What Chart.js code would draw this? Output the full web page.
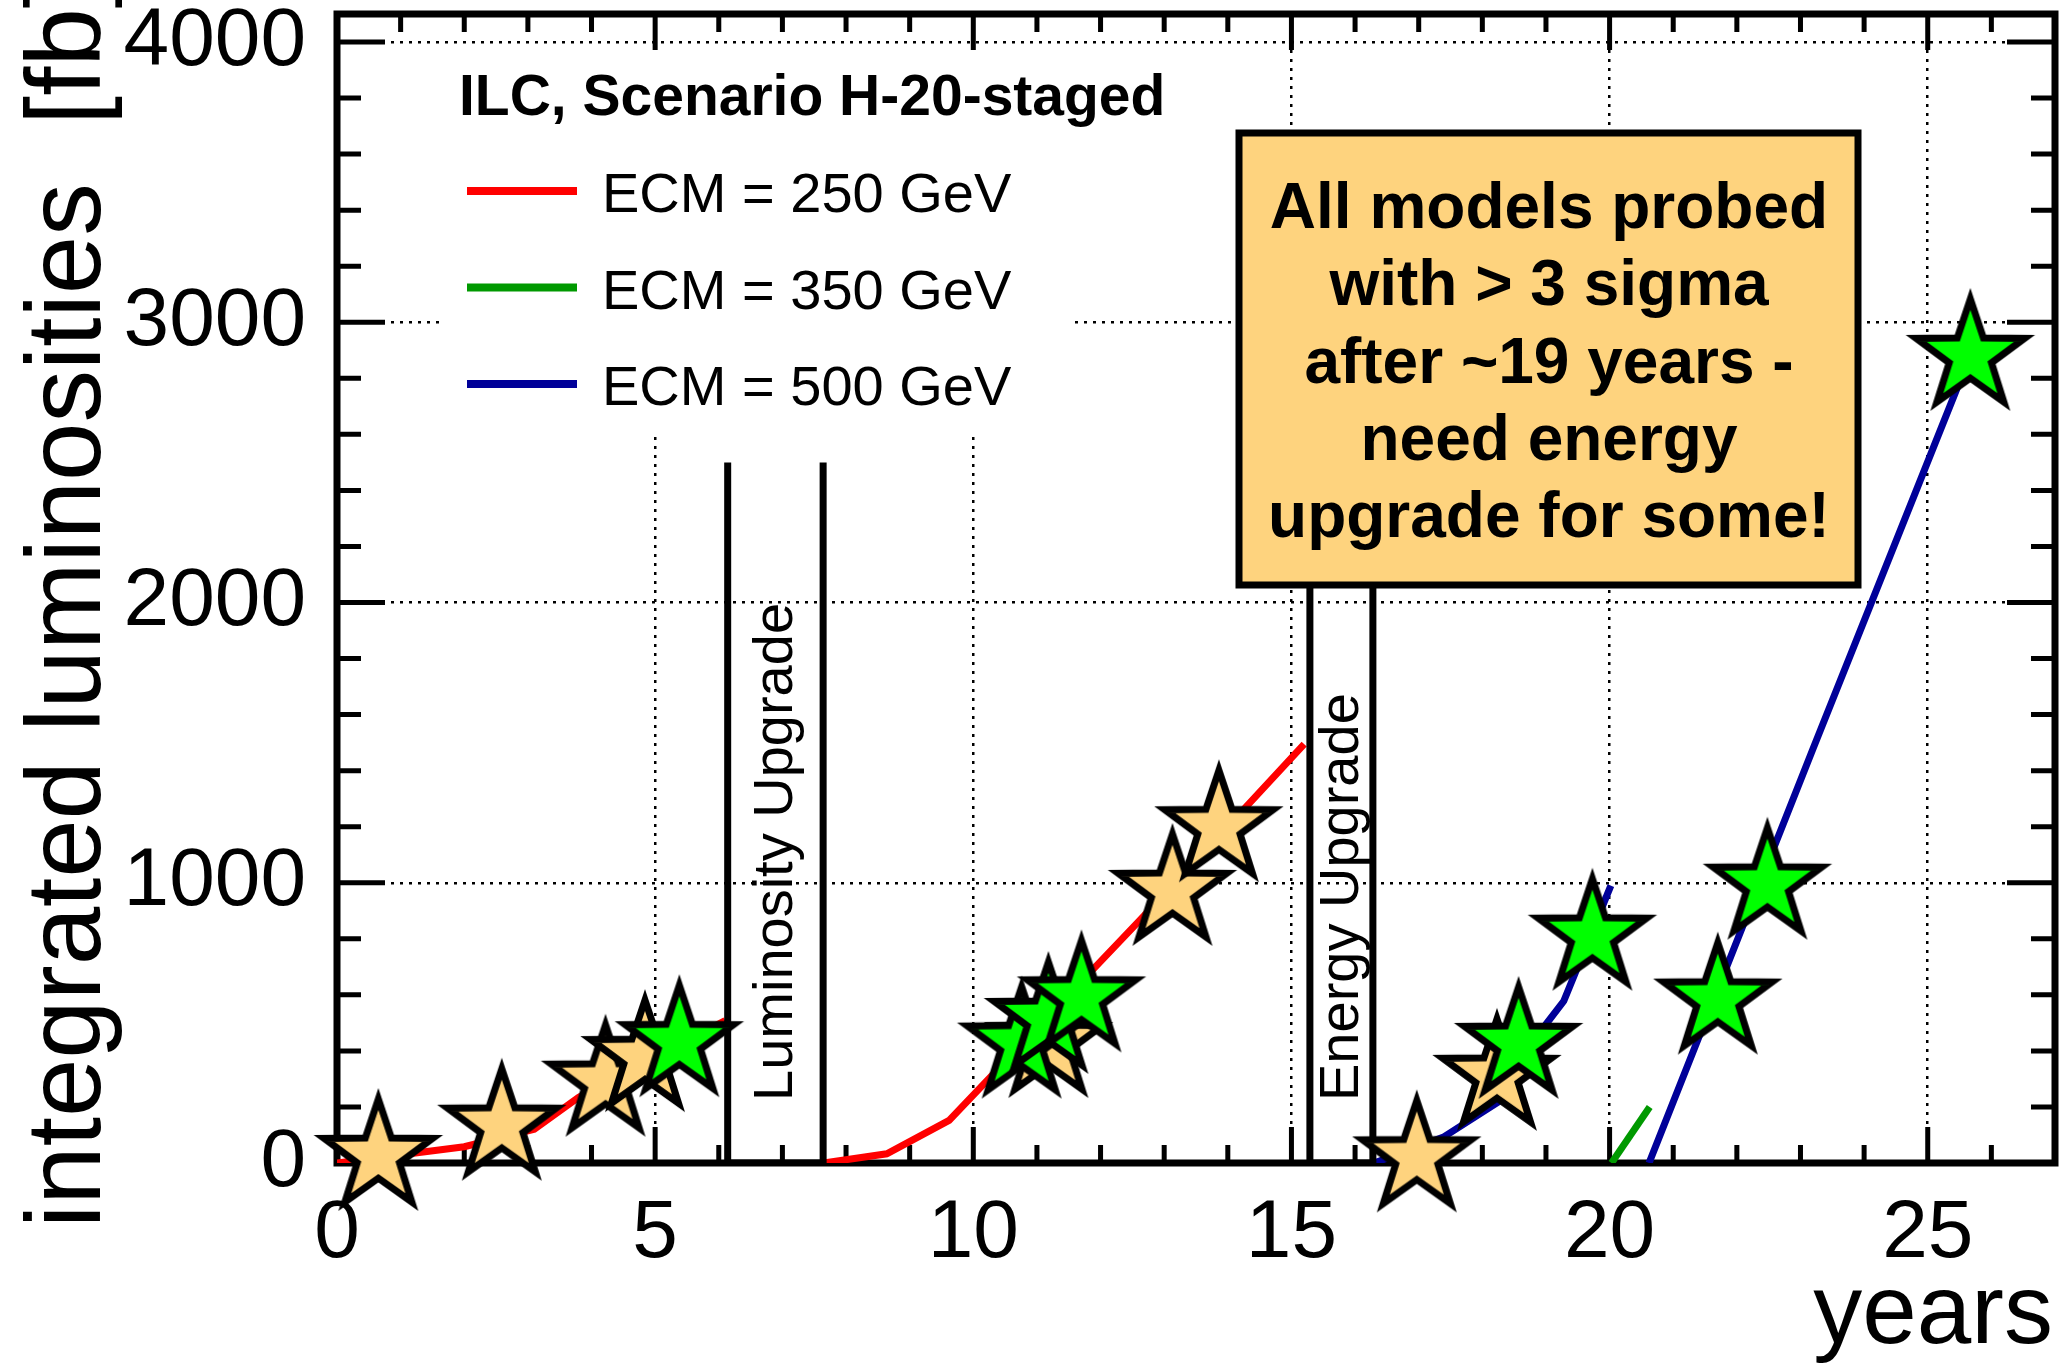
<!DOCTYPE html>
<html>
<head>
<meta charset="utf-8">
<script src="https://cdn.jsdelivr.net/npm/chart.js@4.4.1/dist/chart.umd.min.js"></script>
<style>
  html, body { margin: 0; padding: 0; background: #fff; }
  #chart { display: block; }
</style>
</head>
<body>
<canvas id="chart" width="2070" height="1368"></canvas>
<script>
// ECM = 250 GeV, before and after the luminosity upgrade
const red1Years = [0, 2.0, 3.1, 3.8, 6.1];
const red1Lumi  = [0, 58, 120, 235, 508];
const red2Years = [7.65, 8.64, 9.62, 12.6, 14.25, 15.2];
const red2Lumi  = [0, 33, 152, 862, 1262, 1495];
// ECM = 350 GeV
const greenYears = [20.03, 20.63];
const greenLumi  = [0, 200];
// ECM = 500 GeV
const blue1Years = [16.3, 17.4, 18.3, 19.0, 19.28, 20.02];
const blue1Lumi  = [0, 94, 225, 495, 578, 990];
const blue2Years = [20.62, 23.2, 25.49, 25.67];
const blue2Lumi  = [0, 1480, 2781, 2880];

// star markers
const orangeStarYears = [0.65, 2.59, 4.22, 4.84, 11.18, 13.13, 13.86, 16.97, 18.23];
const orangeStarLumi  = [25, 133, 290, 378, 428, 971, 1198, 20, 311];
const greenStarYears  = [5.38, 10.76, 11.18, 11.70, 18.57, 19.73, 21.70, 22.48, 25.67];
const greenStarLumi   = [431, 426, 514, 591, 425, 811, 583, 993, 2880];

// upgrade periods (years) and the height of their markers
const lumiUpgrade   = [6.14, 7.64];
const energyUpgrade = [15.29, 16.28];
const upgradeTop    = 2500;

// axis tick labels
const xTickValues = [0, 5, 10, 15, 20, 25];
const yTickValues = [0, 1000, 2000, 3000, 4000];

const legendTitle  = 'ILC, Scenario H-20-staged';
const legendLabels = ['ECM = 250 GeV', 'ECM = 350 GeV', 'ECM = 500 GeV'];
const legendColors = ['#ff0000', '#009900', '#000099'];
const boxLines = ['All models probed', 'with > 3 sigma', 'after ~19 years -', 'need energy', 'upgrade for some!'];

const FONT = "'Liberation Sans', Arial, Helvetica, sans-serif";

function toPts(xs, ys) {
    return xs.map((x, i) => ({ x: x, y: ys[i] }));
}

function boxPts(xs) {
    return [
        { x: xs[0], y: upgradeTop }, { x: xs[0], y: 0 },
        { x: xs[1], y: 0 }, { x: xs[1], y: upgradeTop }
    ];
}

function makeStar(fill) {
    const R = 57, r = R * 0.39, size = 150;
    const c = document.createElement('canvas');
    c.width = size;
    c.height = size;
    const g = c.getContext('2d');
    g.translate(size / 2, size / 2);
    g.beginPath();
    for (let i = 0; i < 10; i++) {
        const rad = i % 2 ? r : R;
        const a = -Math.PI / 2 + i * Math.PI / 5;
        g.lineTo(rad * Math.cos(a), rad * Math.sin(a));
    }
    g.closePath();
    g.fillStyle = fill;
    g.fill();
    g.lineWidth = 7;
    g.lineJoin = 'miter';
    g.strokeStyle = '#000';
    g.stroke();
    return c;
}

function lineSet(xs, ys, color) {
    return {
        data: toPts(xs, ys), showLine: true, borderColor: color, borderWidth: 7,
        pointRadius: 0, tension: 0, order: 5
    };
}

const decor = {
    id: 'decor',
    beforeDatasetsDraw(chart) {
        const ctx = chart.ctx;
        const a = chart.chartArea;
        const xs = chart.scales.x, ys = chart.scales.y;
        ctx.save();

        // legend pad hides the grid behind it
        ctx.fillStyle = '#fff';
        ctx.fillRect(440, 48, 634, 388);

        // frame
        ctx.strokeStyle = '#000';
        ctx.lineWidth = 7;
        ctx.strokeRect(a.left, a.top, a.right - a.left, a.bottom - a.top);

        // ticks pointing inwards on all four sides
        ctx.lineWidth = 5;
        ctx.beginPath();
        for (let v = 0; v <= 27; v++) {
            const px = xs.getPixelForValue(v);
            const len = v % 5 === 0 ? 36 : 18;
            ctx.moveTo(px, a.bottom); ctx.lineTo(px, a.bottom - len);
            ctx.moveTo(px, a.top); ctx.lineTo(px, a.top + len);
        }
        for (let v = 0; v <= 4100; v += 200) {
            const py = ys.getPixelForValue(v);
            const len = v % 1000 === 0 ? 48 : 24;
            ctx.moveTo(a.left, py); ctx.lineTo(a.left + len, py);
            ctx.moveTo(a.right, py); ctx.lineTo(a.right - len, py);
        }
        ctx.stroke();

        // legend
        ctx.fillStyle = '#000';
        ctx.textAlign = 'left';
        ctx.textBaseline = 'alphabetic';
        ctx.font = 'bold 57px ' + FONT;
        ctx.fillText(legendTitle, 459, 115);
        ctx.font = '56px ' + FONT;
        legendLabels.forEach((lab, i) => {
            const yy = 191 + i * 96.5;
            ctx.strokeStyle = legendColors[i];
            ctx.lineWidth = 8;
            ctx.beginPath();
            ctx.moveTo(467, yy);
            ctx.lineTo(577, yy);
            ctx.stroke();
            ctx.fillText(lab, 602, yy + 21);
        });
        ctx.restore();
    },
    afterDatasetsDraw(chart) {
        const ctx = chart.ctx;
        const xs = chart.scales.x, ys = chart.scales.y;
        ctx.save();
        ctx.fillStyle = '#000';
        ctx.textAlign = 'left';
        ctx.textBaseline = 'alphabetic';
        ctx.font = '56px ' + FONT;
        [[lumiUpgrade, 'Luminosity Upgrade'], [energyUpgrade, 'Energy Upgrade']].forEach(([xv, txt]) => {
            const cx = (xs.getPixelForValue(xv[0]) + xs.getPixelForValue(xv[1])) / 2;
            ctx.save();
            ctx.translate(cx + 17, ys.getPixelForValue(0) - 62);
            ctx.rotate(-Math.PI / 2);
            ctx.fillText(txt, 0, 0);
            ctx.restore();
        });

        // message box
        ctx.fillStyle = '#fed37e';
        ctx.fillRect(1239, 133, 619, 452);
        ctx.strokeStyle = '#000';
        ctx.lineWidth = 7;
        ctx.strokeRect(1239, 133, 619, 452);
        ctx.fillStyle = '#000';
        ctx.textAlign = 'center';
        ctx.font = 'bold 64px ' + FONT;
        boxLines.forEach((t, i) => ctx.fillText(t, 1549, 228 + i * 77.3));
        ctx.restore();
    },
    afterDraw(chart) {
        const ctx = chart.ctx;
        ctx.save();
        ctx.fillStyle = '#000';
        ctx.textBaseline = 'alphabetic';
        ctx.font = '98px ' + FONT;
        ctx.textAlign = 'right';
        ctx.fillText('years', 2053, 1343);
        ctx.font = '105px ' + FONT;
        ctx.textAlign = 'left';
        ctx.translate(100, 1228);
        ctx.rotate(-Math.PI / 2);
        ctx.fillText('integrated luminosities  [fb]', 0, 0);
        ctx.restore();
    }
};

Chart.defaults.font.family = FONT;
Chart.defaults.color = '#000';

new Chart(document.getElementById('chart'), {
    type: 'scatter',
    data: {
        datasets: [
            lineSet(red1Years, red1Lumi, '#ff0000'),
            lineSet(red2Years, red2Lumi, '#ff0000'),
            lineSet(greenYears, greenLumi, '#009900'),
            lineSet(blue1Years, blue1Lumi, '#000099'),
            lineSet(blue2Years, blue2Lumi, '#000099'),
            {
                data: boxPts(lumiUpgrade), showLine: true, borderColor: '#000', borderWidth: 7,
                pointRadius: 0, tension: 0, order: 4
            },
            {
                data: boxPts(energyUpgrade), showLine: true, borderColor: '#000', borderWidth: 7,
                pointRadius: 0, tension: 0, order: 4
            },
            {
                data: toPts(orangeStarYears, orangeStarLumi), pointStyle: makeStar('#fed37e'),
                pointRadius: 30, clip: false, order: 3
            },
            {
                data: toPts(greenStarYears, greenStarLumi), pointStyle: makeStar('#00ff00'),
                pointRadius: 30, clip: false, order: 2
            }
        ]
    },
    options: {
        responsive: false,
        devicePixelRatio: 1,
        animation: false,
        events: [],
        layout: { autoPadding: false, padding: { top: 14, right: 15, left: 0, bottom: 0 } },
        plugins: { legend: { display: false }, tooltip: { enabled: false } },
        scales: {
            x: {
                type: 'linear', position: 'bottom', min: 0, max: 27,
                afterBuildTicks(s) { s.ticks = xTickValues.map(v => ({ value: v })); },
                ticks: {
                    padding: 22, maxRotation: 0, autoSkip: false,
                    font: { size: 82 },
                    callback: v => String(v)
                },
                grid: { color: '#000', lineWidth: 2.5, drawTicks: false },
                border: { display: false, dash: [3, 6] },
                afterFit(s) { s.height = 205; s.paddingLeft = 0; s.paddingRight = 0; }
            },
            y: {
                type: 'linear', position: 'left', min: 0, max: 4100,
                afterBuildTicks(s) { s.ticks = yTickValues.map(v => ({ value: v })); },
                ticks: {
                    padding: 31, autoSkip: false,
                    font: { size: 82 },
                    callback: v => String(v)
                },
                grid: { color: '#000', lineWidth: 2.5, drawTicks: false },
                border: { display: false, dash: [3, 6] },
                afterFit(s) { s.width = 337; s.paddingTop = 0; s.paddingBottom = 0; }
            }
        }
    },
    plugins: [decor]
});
</script>
</body>
</html>
